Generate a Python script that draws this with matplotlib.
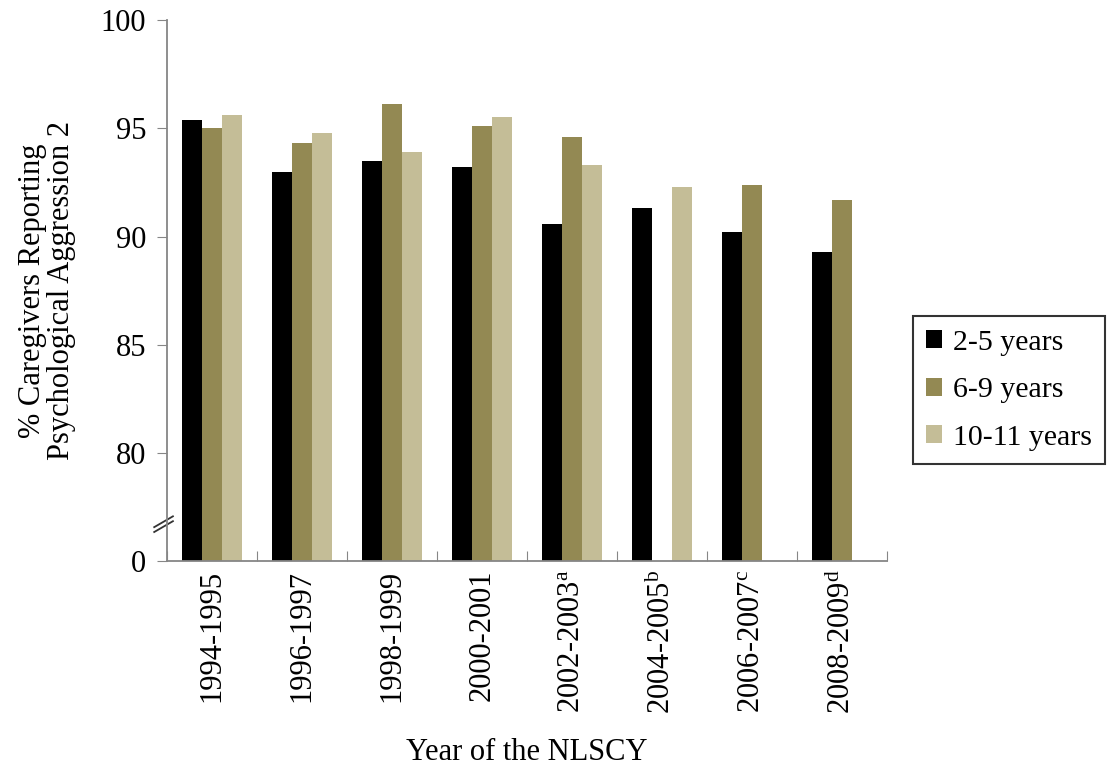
import matplotlib
matplotlib.use("Agg")
import matplotlib.pyplot as plt
import numpy as np

plt.rcParams['font.family'] = ['Liberation Serif', 'DejaVu Serif']
plt.rcParams['mathtext.fontset'] = 'custom'
plt.rcParams['mathtext.rm'] = 'Liberation Serif'
plt.rcParams['mathtext.it'] = 'Liberation Serif'

# data
years = ['1994-1995', '1996-1997', '1998-1999', '2000-2001',
         '2002-2003$^{\\mathrm{a}}$', '2004-2005$^{\\mathrm{b}}$',
         '2006-2007$^{\\mathrm{c}}$', '2008-2009$^{\\mathrm{d}}$']
age_2_5 = [95.4, 93.0, 93.5, 93.2, 90.6, 91.3, 90.2, 89.3]
age_6_9 = [95.0, 94.3, 96.1, 95.1, 94.6, np.nan, 92.4, 91.7]
age_10_11 = [95.6, 94.8, 93.9, 95.5, 93.3, 92.3, np.nan, np.nan]
series_names = ['2-5 years', '6-9 years', '10-11 years']
colors = ['#000000', '#938953', '#C4BD97']

yticks = [75, 80, 85, 90, 95, 100]
yticklabels = ['0', '80', '85', '90', '95', '100']

fs = 22
fig = plt.figure(figsize=(11.07, 7.72), dpi=100)
ax = fig.add_axes([0.151, 0.273, 0.650, 0.701])

x = np.arange(len(years))
w = 0.222
for i, (vals, name) in enumerate(zip([age_2_5, age_6_9, age_10_11], series_names)):
    ax.bar(x + (i - 1) * w, vals, width=w, color=colors[i], label=name)

ax.set_ylim(75, 100)
ax.set_xlim(-0.5, len(years) - 0.5)
ax.set_yticks(yticks)
ax.set_yticklabels(yticklabels, fontsize=fs, family='Liberation Serif')

# category boundaries as major ticks, labels on minor ticks
ax.set_xticks(np.arange(-0.5, len(years), 1.0))
ax.set_xticklabels([])
ax.set_xticks(x, minor=True)
ax.set_xticklabels(years, minor=True, rotation=90, fontsize=fs, family='Liberation Serif')
ax.tick_params(axis='x', which='minor', length=0, pad=6)
ax.tick_params(axis='x', which='major', length=7, direction='in', color='#868686')
ax.tick_params(axis='y', length=7, color='#868686', pad=8)

for s in ['top', 'right']:
    ax.spines[s].set_visible(False)
for s in ['left', 'bottom']:
    ax.spines[s].set_color('#868686')
    ax.spines[s].set_linewidth(1.3)

# axis break marks
for dy in [0.0, 0.009]:
    ax.plot([-0.018, 0.008], [0.054 + dy, 0.074 + dy], transform=ax.transAxes,
            color='#333333', lw=1.3, clip_on=False)

ax.set_ylabel('% Caregivers Reporting\nPsychological Aggression 2', fontsize=fs,
              labelpad=18, linespacing=1.0)
ax.set_xlabel('Year of the NLSCY', fontsize=fs, labelpad=17)

leg = ax.legend(loc='center left', bbox_to_anchor=(1.036, 0.316), fontsize=21.5,
                frameon=True, fancybox=False, edgecolor='black',
                handlelength=0.55, handleheight=0.55, handletextpad=0.35,
                labelspacing=0.72, borderpad=0.45, borderaxespad=0.0)
leg.get_frame().set_linewidth(1.5)

fig.savefig('out.png', dpi=100)
